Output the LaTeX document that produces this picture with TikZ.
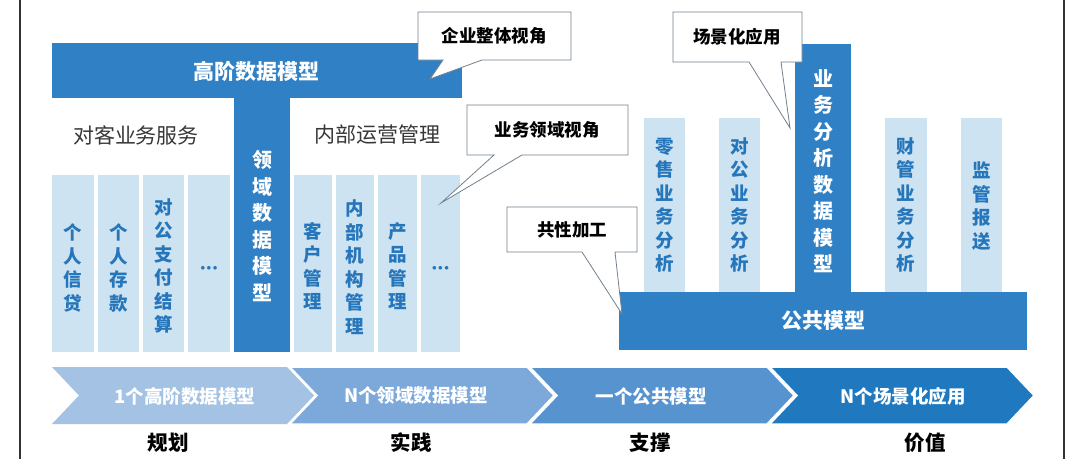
\documentclass[tikz,border=0pt]{standalone}
\usepackage{fontspec}
\setmainfont{Noto Sans CJK SC}
\definecolor{mainblue}{RGB}{47,128,196}
\definecolor{lightbox}{RGB}{205,227,241}
\definecolor{boxtext}{RGB}{38,118,188}
\definecolor{callline}{RGB}{115,128,142}
\definecolor{darktext}{RGB}{55,55,55}
\definecolor{chevA}{RGB}{163,194,228}
\definecolor{chevB}{RGB}{124,168,218}
\definecolor{chevC}{RGB}{86,147,207}
\definecolor{chevD}{RGB}{32,120,190}
\tikzset{
  bluefill/.style={fill=mainblue, draw=none},
  lightfill/.style={fill=lightbox, draw=none},
  vsmall/.style={text=boxtext, font=\bfseries\fontsize{18.5}{23.5}\selectfont, align=center, inner sep=0pt},
  vbig/.style={text=white, font=\bfseries\fontsize{20}{26.5}\selectfont, align=center, inner sep=0pt},
  headtxt/.style={text=white, font=\bfseries\fontsize{21}{24}\selectfont, inner sep=0pt},
  grouptxt/.style={text=darktext, font=\fontsize{21}{24}\selectfont, inner sep=0pt},
  calloutshape/.style={fill=white, draw=callline, line width=0.8pt, line join=miter},
  callouttxt/.style={text=black, font=\bfseries\fontsize{17.5}{20}\selectfont, inner sep=0pt},
  chevtxt/.style={text=white, font=\bfseries\fontsize{18.5}{20}\selectfont, inner sep=0pt},
  chevshape/.style={draw=white, line width=1.5pt, line join=miter},
  steptxt/.style={text=black, font=\bfseries\fontsize{20.5}{22}\selectfont, inner sep=0pt},
  dotstxt/.style={text=boxtext, font=\bfseries\fontsize{9}{10}\selectfont, inner sep=0pt},
  frameline/.style={draw=black!80, line width=2pt}
}
\begin{document}
\begin{tikzpicture}[x=1pt,y=-1pt]
\useasboundingbox[fill=white] (0,0) rectangle (1080,459);
% frame lines
\draw[frameline] (20,0) -- (20,459);
\draw[frameline] (1064,0) -- (1064,459);

% ---------- left part ----------
\fill[bluefill] (52,43) rectangle (462,98);
\fill[bluefill] (234,98) rectangle (290,352);
\node[headtxt] (hdm) at (256,71) {高阶数据模型};
\node[vbig] (ly) at (262,226) {领\\域\\数\\据\\模\\型};

\node[grouptxt] (dk) at (136,135) {对客业务服务};
\node[grouptxt] (nb) at (377,135) {内部运营管理};

\fill[lightfill] (52,175) rectangle (94,352);
\fill[lightfill] (98,175) rectangle (139,352);
\fill[lightfill] (143,175) rectangle (184,352);
\fill[lightfill] (188,175) rectangle (230,352);
\fill[lightfill] (294,175) rectangle (332,352);
\fill[lightfill] (336,175) rectangle (374,352);
\fill[lightfill] (378,175) rectangle (417,352);
\fill[lightfill] (421,175) rectangle (460,352);

\node[vsmall] (b1) at (73,268) {个\\人\\信\\贷};
\node[vsmall] (b2) at (118.5,268) {个\\人\\存\\款};
\node[vsmall] (b3) at (163.5,266) {对\\公\\支\\付\\结\\算};
\node[dotstxt] (b4) at (209,268) {$\bullet$\kern1.5pt$\bullet$\kern1.5pt$\bullet$};
\node[vsmall] (b5) at (313,266) {客\\户\\管\\理};
\node[vsmall] (b6) at (355,267) {内\\部\\机\\构\\管\\理};
\node[vsmall] (b7) at (397.5,266) {产\\品\\管\\理};
\node[dotstxt] (b8) at (440.5,268) {$\bullet$\kern1.5pt$\bullet$\kern1.5pt$\bullet$};

% ---------- right part ----------
\fill[lightfill] (644,118) rectangle (685,292);
\fill[lightfill] (719,118) rectangle (760,292);
\fill[lightfill] (885,118) rectangle (927,292);
\fill[lightfill] (961,118) rectangle (1002,292);
\fill[bluefill] (795,44) rectangle (851,292);
\fill[bluefill] (619,292) rectangle (1027,350);

\node[vsmall] (r1) at (664.5,205) {零\\售\\业\\务\\分\\析};
\node[vsmall] (r2) at (739.5,205) {对\\公\\业\\务\\分\\析};
\node[vsmall] (r3) at (906,205) {财\\管\\业\\务\\分\\析};
\node[vsmall] (r4) at (981.5,206) {监\\管\\报\\送};
\node[vbig] (r5) at (823,171) {业\\务\\分\\析\\数\\据\\模\\型};
\node[headtxt] (gg) at (823,321) {公共模型};

% ---------- callouts ----------
\draw[calloutshape] (418,12) -- (571,12) -- (571,60) -- (482,60) -- (430,79) -- (443,60) -- (418,60) -- cycle;
\node[callouttxt] (c1) at (494,36) {企业整体视角};

\draw[calloutshape] (467,105) -- (628,105) -- (628,155) -- (522,155) -- (441,203) -- (494,155) -- (467,155) -- cycle;
\node[callouttxt] (c2) at (547,130) {业务领域视角};

\draw[calloutshape] (673,12) -- (802,12) -- (802,62) -- (781,62) -- (790,128) -- (749,62) -- (673,62) -- cycle;
\node[callouttxt] (c3) at (737,37) {场景化应用};

\draw[calloutshape] (507,207) -- (637,207) -- (637,252) -- (615,252) -- (622,314) -- (582,252) -- (507,252) -- cycle;
\node[callouttxt] (c4) at (572,230) {共性加工};

% ---------- chevrons ----------
\fill[chevA] (52,367) -- (287,367) -- (314,395.5) -- (287,424) -- (52,424) -- (79,395.5) -- cycle;
\draw[chevshape, fill=chevB] (290,367) -- (527,367) -- (554,395.5) -- (527,424) -- (290,424) -- (317,395.5) -- cycle;
\draw[chevshape, fill=chevC] (530,367) -- (767,367) -- (794,395.5) -- (767,424) -- (530,424) -- (557,395.5) -- cycle;
\draw[chevshape, fill=chevD] (770,367) -- (1007,367) -- (1034,395.5) -- (1007,424) -- (770,424) -- (797,395.5) -- cycle;

\node[chevtxt] (k1) at (185,396) {1个高阶数据模型};
\node[chevtxt] (k2) at (416,396) {N个领域数据模型};
\node[chevtxt] (k3) at (651,396) {一个公共模型};
\node[chevtxt] (k4) at (903,396) {N个场景化应用};

\node[steptxt] (s1) at (168,443) {规划};
\node[steptxt] (s2) at (411,443) {实践};
\node[steptxt] (s3) at (650,443) {支撑};
\node[steptxt] (s4) at (925,443) {价值};
\end{tikzpicture}
\end{document}
